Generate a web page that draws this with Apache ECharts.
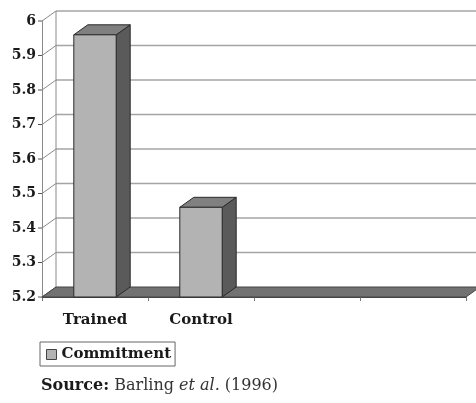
<!DOCTYPE html>
<html>
<head>
<meta charset="utf-8">
<script src="https://cdn.jsdelivr.net/npm/echarts@6/dist/echarts.min.js"></script>
<style>
  html, body { margin: 0; padding: 0; background: #fff; }
  #chart { width: 476px; height: 403px; }
</style>
</head>
<body>
<div id="chart"></div>
<script>
// Commitment scores by group
const categories = ['Trained', 'Control', '', ''];
const commitment = [5.96, 5.46, null, null];
const seriesName = 'Commitment';
const yTicks = [5.2, 5.3, 5.4, 5.5, 5.6, 5.7, 5.8, 5.9, 6.0];
const yMin = 5.2, yMax = 6.0, yStep = 0.1;

// depth of the pseudo-3D box (screen offset of the back plane)
const DX = 14, DY = -10;
const SERIF = '"DejaVu Serif", "Liberation Serif", serif';

const chart = echarts.init(document.getElementById('chart'), null, { renderer: 'canvas' });

// Walls: back-wall gridlines, side-wall diagonals, y tick marks
function renderWalls(params, api) {
  const cs = params.coordSys;
  const v = api.value(0);
  const y = api.coord([0, v])[1];
  const x0 = cs.x, x1 = cs.x + cs.width;
  const children = [];
  const gridStyle = { stroke: '#a4a4a4', lineWidth: 1.6 };
  if (v > yMin + 1e-9) {
    children.push({ type: 'line', shape: { x1: x0 + DX, y1: y + DY, x2: x1 + DX, y2: y + DY }, style: gridStyle });
  }
  if (Math.abs(v - yMax) < 1e-9) {
    // left edge of the back wall
    const yb = api.coord([0, yMin])[1];
    children.push({ type: 'line', shape: { x1: x0 + DX, y1: y + DY, x2: x0 + DX, y2: yb + DY }, style: { stroke: '#8a8a8a', lineWidth: 1 } });
  }
  children.push({ type: 'line', shape: { x1: x0, y1: y, x2: x0 + DX, y2: y + DY }, style: { stroke: '#8a8a8a', lineWidth: 1 } });
  children.push({ type: 'line', shape: { x1: x0 - 4, y1: y, x2: x0, y2: y }, style: { stroke: '#555', lineWidth: 1 } });
  return { type: 'group', children };
}

// Floor plate at the axis minimum
function renderFloor(params, api) {
  const cs = params.coordSys;
  const y = api.coord([0, yMin])[1];
  const x0 = cs.x, x1 = cs.x + cs.width;
  return {
    type: 'polygon',
    shape: { points: [[x0, y], [x1, y], [x1 + DX, y + DY], [x0 + DX, y + DY]] },
    style: { fill: '#727272', stroke: '#444', lineWidth: 1 }
  };
}

// 3D column: front face, side face, top face
function renderBar(params, api) {
  const val = api.value(1);
  if (val == null || isNaN(val)) return;
  const idx = api.value(0);
  const top = api.coord([idx, val]);
  const base = api.coord([idx, yMin]);
  const w = api.size([1, 0])[0] * 0.4;
  const xl = top[0] - w / 2, xr = top[0] + w / 2;
  const yt = top[1], yb = base[1];
  const edge = { stroke: '#2a2a2a', lineWidth: 1 };
  return {
    type: 'group',
    children: [
      { type: 'polygon', shape: { points: [[xr, yt], [xr + DX, yt + DY], [xr + DX, yb + DY], [xr, yb]] },
        style: Object.assign({ fill: '#5a5a5a' }, edge) },
      { type: 'polygon', shape: { points: [[xl, yt], [xr, yt], [xr + DX, yt + DY], [xl + DX, yt + DY]] },
        style: Object.assign({ fill: '#808080' }, edge) },
      { type: 'rect', shape: { x: xl, y: yt, width: w, height: yb - yt },
        style: Object.assign({ fill: '#b3b3b3' }, edge) }
    ]
  };
}

const option = {
  backgroundColor: '#ffffff',
  animation: false,
  grid: { left: 42, right: 10, top: 21, bottom: 106, containLabel: false },
  xAxis: {
    type: 'category',
    data: categories,
    boundaryGap: true,
    axisLine: { show: true, lineStyle: { color: '#444', width: 1 } },
    axisTick: { show: true, length: 4, alignWithLabel: false, lineStyle: { color: '#777' } },
    axisLabel: { fontFamily: SERIF, fontWeight: 'bold', fontSize: 15, color: '#1a1a1a', margin: 16 },
    splitLine: { show: false }
  },
  yAxis: {
    type: 'value',
    min: yMin, max: yMax, interval: yStep,
    axisLine: { show: true, lineStyle: { color: '#8a8a8a', width: 1 } },
    axisTick: { show: false },
    splitLine: { show: false },
    axisLabel: {
      fontFamily: SERIF, fontWeight: 'bold', fontSize: 14, color: '#1a1a1a', margin: 6,
      formatter: v => {
        const r = Math.round(v * 10) / 10;
        return Number.isInteger(r) ? String(r) : r.toFixed(1);
      }
    }
  },
  legend: {
    left: 40, top: 342,
    orient: 'horizontal',
    icon: 'rect',
    itemWidth: 10, itemHeight: 10, itemGap: 4,
    padding: [5, 4, 4, 6],
    borderColor: '#666', borderWidth: 1,
    textStyle: { fontFamily: SERIF, fontWeight: 'bold', fontSize: 15, color: '#1a1a1a' },
    data: [{ name: seriesName, itemStyle: { color: '#b3b3b3', borderColor: '#444', borderWidth: 1 } }]
  },
  title: {
    left: 36, top: 373,
    text: '{b|Source:} Barling {i|et al.} (1996)',
    textStyle: {
      fontFamily: SERIF, fontSize: 16, fontWeight: 'normal', color: '#333',
      rich: {
        b: { fontFamily: SERIF, fontSize: 16, fontWeight: 'bold', color: '#1a1a1a' },
        i: { fontFamily: SERIF, fontSize: 16, fontStyle: 'italic', color: '#333' }
      }
    }
  },
  series: [
    {
      type: 'custom', name: 'walls', silent: true, z: 1,
      renderItem: renderWalls,
      encode: { y: 0 },
      data: yTicks.map(v => [v])
    },
    {
      type: 'custom', name: 'floor', silent: true, z: 2,
      renderItem: renderFloor,
      data: [[yMin]]
    },
    {
      type: 'custom', name: seriesName, z: 3,
      itemStyle: { color: '#b3b3b3' },
      renderItem: renderBar,
      encode: { x: 0, y: 1 },
      data: commitment.map((v, i) => [i, v])
    }
  ]
};

chart.setOption(option);
</script>
</body>
</html>
